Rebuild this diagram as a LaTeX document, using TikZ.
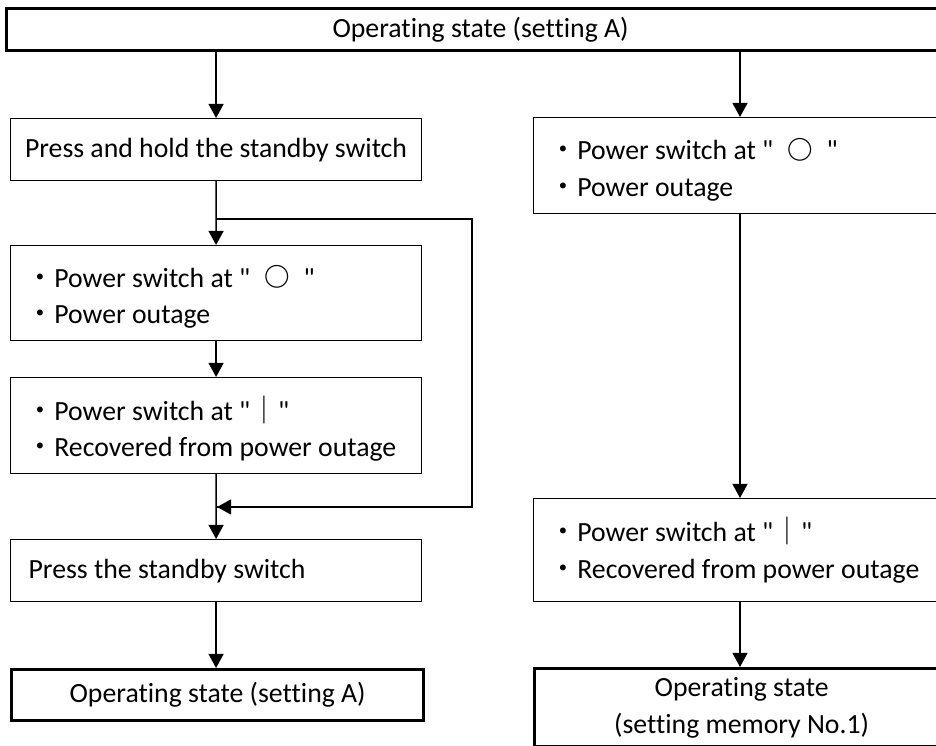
\documentclass[tikz,border=0pt]{standalone}
\usepackage{fontspec}
\setmainfont{Carlito}[Ligatures={TeXOff,NoCommon}]
\newfontfamily\cjk{Noto Sans CJK JP}
\usepackage{tikz}
\usetikzlibrary{arrows.meta, calc, positioning}

\newcommand{\dotmark}{{\cjk ・}}
\newcommand{\offmark}{\hspace{0.5em}\raisebox{0.3pt}{\cjk\bfseries\fontsize{14.5pt}{14.5pt}\selectfont ○}\hspace{0.5em}}
\newcommand{\onmark}{{\cjk ｜}}

\begin{document}
\begin{tikzpicture}[x=0.02cm, y=-0.02cm,
    font=\fontsize{15.8pt}{20.8pt}\selectfont,
    box/.style={draw, line width=0.7pt, rectangle, anchor=north west, inner sep=0pt},
    statebox/.style={box, line width=1.9pt, align=center},
    listbox/.style={box, align=flush left, inner xsep=0.32cm},
    flow/.style={line width=0.85pt, -{Triangle[length=8pt, width=8.5pt]}},
    plain/.style={line width=0.7pt}]

    % =================================================================
    % 1. KHUNG HÌNH VÀ TRẠNG THÁI BAN ĐẦU
    % =================================================================
    \useasboundingbox (0,0) rectangle (936,746);
    \clip (0,0) rectangle (936,746);

    \node[statebox, minimum width=18.96cm, minimum height=0.84cm] (start) at (5,7)
        {Operating state (setting A)};

    % =================================================================
    % 2. NHÁNH TRÁI: GIỮ NÚT CHỜ
    % =================================================================
    \node[box, minimum width=8.22cm, minimum height=1.24cm] (hold) at (10,118)
        {Press and hold the standby switch};
    \node[listbox, text width=7.58cm, minimum height=1.9cm, text depth=0.66cm] (offL) at (10,245)
        {\dotmark Power switch at "\offmark"\\ \dotmark Power outage};
    \node[listbox, text width=7.58cm, minimum height=1.92cm, text depth=0.7cm] (onL) at (10,377)
        {\dotmark Power switch at "\onmark"\\ \dotmark Recovered from power outage};
    \node[box, align=flush left, inner xsep=0.36cm, text width=7.5cm, minimum height=1.24cm] (press) at (10,539)
        {Press the standby switch};
    \node[statebox, minimum width=8.24cm, minimum height=1.02cm] (endL) at (10,668)
        {Operating state (setting A)};

    % Điểm rẽ nhánh và điểm nhập của đường vòng
    \coordinate (fork) at (217,219);
    \coordinate (join) at (217,507);

    % =================================================================
    % 3. NHÁNH PHẢI: TẮT NGUỒN / MẤT ĐIỆN
    % =================================================================
    \node[listbox, text width=7.96cm, minimum height=1.92cm, text depth=0.66cm] (offR) at (533,117)
        {\dotmark Power switch at "\offmark"\\ \dotmark Power outage};
    \node[listbox, text width=7.96cm, minimum height=2.06cm] (onR) at (533,498)
        {\dotmark Power switch at "\onmark"\\ \dotmark Recovered from power outage};
    \node[statebox, minimum width=8.28cm, minimum height=1.56cm] (endR) at (533,667)
        {Operating state\\(setting memory No.1)};

    % Trục của nhánh phải
    \coordinate (rx) at (740,0);

    % =================================================================
    % 4. CÁC MŨI TÊN NỐI
    % =================================================================
    \draw[flow] (start.south -| hold.north) -- (hold.north);
    \draw[flow] (hold.south) -- (offL.north);
    \draw[flow] (offL.south) -- (onL.north);
    \draw[flow] (onL.south) -- (press.north);
    \draw[flow] (press.south) -- (press.south |- endL.north);

    % Đường vòng bỏ qua hai bước giữa
    \draw[plain] (fork) -- ++(255,0) |- (join);
    \draw[flow] ($(join)+(255,0)$) -- (join);

    \draw[flow] (start.south -| rx) -- (offR.north -| rx);
    \draw[flow] (offR.south -| rx) -- (onR.north -| rx);
    \draw[flow] (onR.south -| rx) -- (endR.north -| rx);

\end{tikzpicture}
\end{document}
